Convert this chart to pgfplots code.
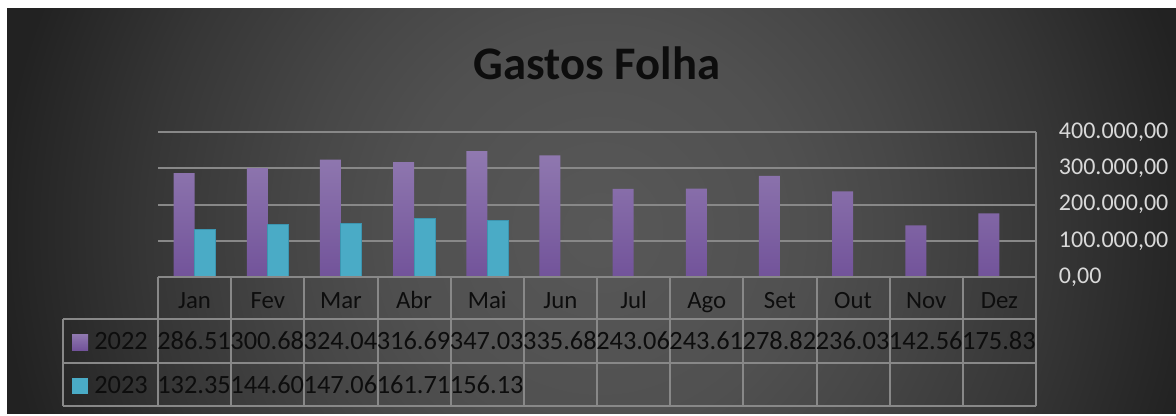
\documentclass[border=0pt]{standalone}
\usepackage{fontspec}
\setmainfont{Carlito}
\usepackage{pgfplots}
\pgfplotsset{compat=1.18}
\usepackage{pgfplotstable}

\definecolor{purpTop}{HTML}{9079B0}
\definecolor{purpBot}{HTML}{72539A}
\definecolor{tealc}{HTML}{4AABC6}
\definecolor{tealBorder}{HTML}{3C95B0}
\definecolor{gridc}{HTML}{888888}
\definecolor{tickc}{HTML}{D9D9D9}
\definecolor{txt}{HTML}{0D0D0D}

% radii in bp = px * 0.75
\pgfdeclareradialshading{bgshade}{\pgfpoint{0bp}{0bp}}{rgb(0bp)=(0.345,0.345,0.345); rgb(150bp)=(0.314,0.314,0.314); rgb(225bp)=(0.278,0.278,0.278); rgb(337bp)=(0.212,0.212,0.212); rgb(450bp)=(0.133,0.133,0.133); rgb(525bp)=(0.129,0.129,0.129)}

\pgfplotstableread{
x y22 y23
0 286510 132350
1 300680 144600
2 324040 147060
3 316690 161710
4 347030 156130
5 335680 nan
6 243060 nan
7 243610 nan
8 278820 nan
9 236030 nan
10 142560 nan
11 175830 nan
}\gastos

\newcommand{\numfont}{\fontsize{19.8pt}{19.8pt}\selectfont}
\newcommand{\monfont}{\fontsize{18.6pt}{18.6pt}\selectfont}

\begin{document}
\begin{tikzpicture}
\begin{scope}[x=0.75pt,y=-0.75pt,yshift=311.25pt]
  \path[use as bounding box] (0,0) rectangle (1176,415);
  \fill[white] (0,0) rectangle (1176,415);
  \begin{scope}
    \clip (7,9) rectangle (1176,413);
    \node[inner sep=0pt, outer sep=0pt] at (600,230) {\pgfuseshading{bgshade}};
  \end{scope}
\end{scope}

\begin{axis}[
  at={(118.5pt,103.5pt)}, anchor=south west,
  width=658.5pt, height=108.75pt, scale only axis,
  xmin=-0.5, xmax=11.5, ymin=0, ymax=400000,
  ybar=0pt, bar width=15.75pt,
  axis line style={draw=none},
  tick style={draw=none},
  major tick length=0pt,
  ymajorgrids, grid style={gridc, line width=1.5pt},
  ytick={0,100000,200000,300000,400000},
  scaled y ticks=false,
  yticklabel pos=right,
  /pgf/number format/assume math mode=true,
  yticklabel={\pgfmathprintnumber[fixed,fixed zerofill,precision=2,use comma]{\tick}},
  yticklabel style={anchor=west, inner sep=0pt, xshift=17pt, text=tickc,
    font=\fontsize{18pt}{18pt}\selectfont},
  xtick=\empty,
  clip=false,
]
\addplot[draw=none, top color=purpTop, bottom color=purpBot] table[x=x,y=y22]{\gastos};
\addplot[fill=tealc, draw=tealBorder, line width=0.75pt] table[x=x,y=y23]{\gastos};
\end{axis}

\begin{scope}[x=0.75pt,y=-0.75pt,yshift=311.25pt]
  % right axis line
  \draw[gridc, line width=1.5pt] (1036,132) -- (1036,277);
  % data table
  \draw[gridc, line width=1.5pt] (158,277) -- (1036,277);
  \draw[gridc, line width=1.5pt] (63,319) -- (1036,319);
  \draw[gridc, line width=1.5pt] (63,363) -- (1036,363);
  \draw[gridc, line width=1.5pt] (63,406) -- (1036,406);
  \draw[gridc, line width=1.5pt] (63,319) -- (63,406);
  \foreach \i in {0,...,12} {
    \draw[gridc, line width=1.5pt] ({158+73.1667*\i},277) -- ({158+73.1667*\i},406);
  }
  % month labels
  \foreach \m [count=\i from 0] in {Jan,Fev,Mar,Abr,Mai,Jun,Jul,Ago,Set,Out,Nov,Dez} {
    \node[anchor=base, inner sep=0pt, text=txt, font=\monfont] at ({158+73.1667*(\i+0.5)},308) {\m};
  }
  % 2022 values
  \foreach \v [count=\i from 0] in {286.51,300.68,324.04,316.69,347.03,335.68,243.06,243.61,278.82,236.03,142.56,175.83} {
    \node[anchor=base, inner sep=0pt, text=txt, font=\numfont] at ({158+73.1667*(\i+0.5)-0.5},349) {\v};
  }
  % 2023 values
  \foreach \v [count=\i from 0] in {132.35,144.60,147.06,161.71,156.13} {
    \node[anchor=base, inner sep=0pt, text=txt, font=\numfont] at ({158+73.1667*(\i+0.5)-0.5},393) {\v};
  }
  % legend keys
  \shade[top color=purpTop, bottom color=purpBot] (72,334) rectangle (88,350);
  \fill[tealc] (72,378) rectangle (88,394);
  \node[anchor=base west, inner sep=0pt, text=txt, font=\numfont] at (94,349) {2022};
  \node[anchor=base west, inner sep=0pt, text=txt, font=\numfont] at (94,393) {2023};
  % title
  \node[anchor=base, inner sep=0pt, text=txt, font=\fontsize{35pt}{35pt}\selectfont\bfseries] at (597,80) {Gastos Folha};
\end{scope}
\end{tikzpicture}
\end{document}
